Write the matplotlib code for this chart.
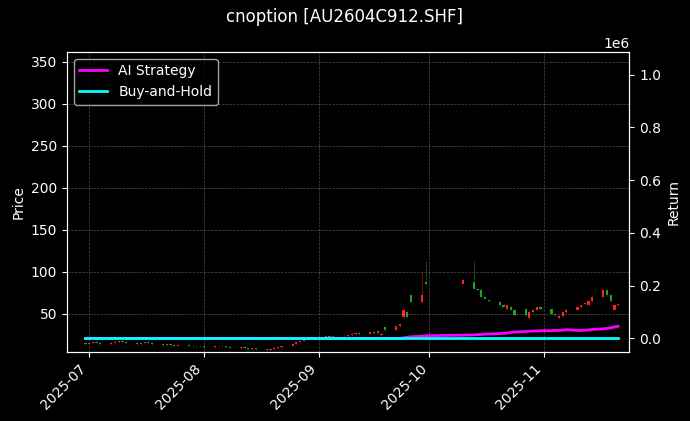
import matplotlib
matplotlib.use("Agg")
import matplotlib.pyplot as plt
import matplotlib.dates as mdates
import numpy as np
import pandas as pd

title = "cnoption [AU2604C912.SHF]"

# trading days (Chinese National Day holiday removed)
dates = [d for d in pd.bdate_range("2025-06-30", "2025-11-21")
         if not (pd.Timestamp("2025-10-01") <= d <= pd.Timestamp("2025-10-09"))]

closes = [14, 15, 16, 15, 14, 15, 16, 17, 16, 15, 14, 15, 16, 15, 14, 13, 14, 13, 12, 13,
          12, 11, 12, 11, 10, 11, 12, 11, 10, 9, 10, 9, 8, 9, 8, 7, 8, 9, 10, 12,
          14, 16, 18, 20, 21, 22, 21, 23, 22, 24, 23, 25, 26, 27, 26, 28, 27, 29, 26, 31,
          35, 38, 54, 46, 64, 72, 85, 90, 80, 78, 70, 68, 65, 60, 58, 60, 55, 48,
          48, 52, 55, 58, 56, 50, 48, 47, 52, 55, 58, 60, 62, 65, 70, 78, 72, 65,
          60, 62, 58, 62, 64, 63, 66, 60]
opens = [15, 14, 15, 16, 15, 14, 15, 16, 17, 16, 15, 14, 15, 16, 15, 14, 13, 14, 13, 12,
         13, 12, 11, 12, 11, 10, 11, 12, 11, 10, 9, 10, 9, 8, 9, 8, 7, 8, 9, 10,
         12, 14, 16, 18, 20, 21, 22, 21, 23, 22, 24, 23, 25, 26, 27, 26, 28, 27, 25, 34,
         31, 35, 46, 52, 72, 64, 88, 86, 88, 80, 78, 70, 66, 64, 60, 56, 58, 55,
         56, 45, 52, 55, 58, 56, 50, 45, 47, 52, 55, 58, 62, 60, 65, 70, 78, 72,
         55, 60, 64, 58, 62, 66, 60, 68]
highs = [max(o, c) + 1 for o, c in zip(opens, closes)]
lows = [min(o, c) - 1 for o, c in zip(opens, closes)]
highs[66] = 113
highs[68] = 113
highs[65] = 100

strategy = [0.0] * 62 + [0.002, 0.004, 0.006, 0.008, 0.01, 0.012, 0.013, 0.014, 0.015, 0.016,
                         0.017, 0.018, 0.019, 0.02, 0.022, 0.024, 0.026, 0.027, 0.028, 0.028,
                         0.029, 0.029, 0.03, 0.03, 0.031, 0.033, 0.03, 0.03, 0.031, 0.032,
                         0.034, 0.036, 0.038, 0.04, 0.043, 0.046, 0.05, 0.054, 0.058, 0.062,
                         0.064, 0.065]
strategy = strategy[:len(dates)] + [strategy[-1]] * (len(dates) - len(strategy))
buyhold = [0.0] * len(dates)

plt.style.use("dark_background")
fig, ax = plt.subplots(figsize=(6.9, 4.21), dpi=100)
fig.subplots_adjust(left=0.097, right=0.912, top=0.877, bottom=0.165)
ax.set_facecolor("black")

for d, o, c, h, l in zip(dates, opens, closes, highs, lows):
    col = "#ff2020" if c >= o else "#20a020"
    x = mdates.date2num(d)
    ax.vlines(x, l, h, color=col, linewidth=0.6, alpha=0.5)
    ax.bar(x, abs(c - o) if c != o else 0.3, bottom=min(o, c), width=0.6, color=col)

ax.set_ylim(5, 362)
ax.set_xlim(mdates.date2num(pd.Timestamp("2025-06-25")), mdates.date2num(pd.Timestamp("2025-11-24")))
ax.set_ylabel("Price")
ax.grid(True, linestyle="--", linewidth=0.5, alpha=0.3)
ax.xaxis.set_major_locator(mdates.MonthLocator())
ax.xaxis.set_major_formatter(mdates.DateFormatter("%Y-%m"))
plt.setp(ax.get_xticklabels(), rotation=45, ha="right")

ax2 = ax.twinx()
ax2.plot(dates, [v * 1e6 for v in strategy], color="magenta", linewidth=2, label="AI Strategy")
ax2.plot(dates, buyhold, color="cyan", linewidth=2, label="Buy-and-Hold")
ax2.set_ylim(-0.05e6, 1.087e6)
ax2.set_ylabel("Return")
ax2.legend(loc="upper left")

fig.suptitle(title, fontsize=12)
fig.savefig("out.png", dpi=100)
